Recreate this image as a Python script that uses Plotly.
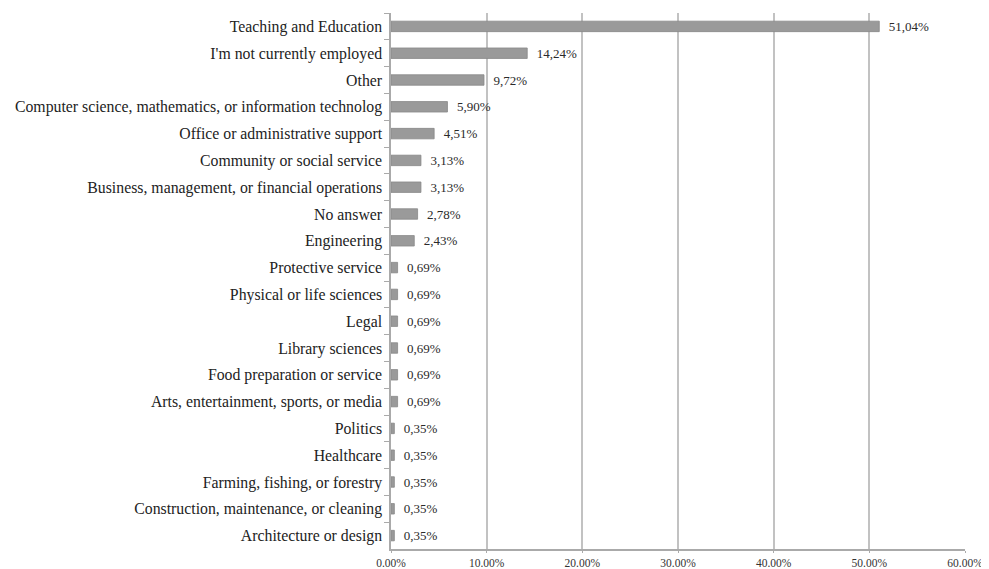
import plotly.graph_objects as go

categories = [
    "Teaching and Education",
    "I'm not currently employed",
    "Other",
    "Computer science, mathematics, or information technolog",
    "Office or administrative support",
    "Community or social service",
    "Business, management, or financial operations",
    "No answer",
    "Engineering",
    "Protective service",
    "Physical or life sciences",
    "Legal",
    "Library sciences",
    "Food preparation or service",
    "Arts, entertainment, sports, or media",
    "Politics",
    "Healthcare",
    "Farming, fishing, or forestry",
    "Construction, maintenance, or cleaning",
    "Architecture or design",
]
values = [51.04, 14.24, 9.72, 5.90, 4.51, 3.13, 3.13, 2.78, 2.43,
          0.69, 0.69, 0.69, 0.69, 0.69, 0.69,
          0.35, 0.35, 0.35, 0.35, 0.35]
tick_vals = [0, 0.1, 0.2, 0.3, 0.4, 0.5, 0.6]

labels = [f"{v:.2f}".replace(".", ",") + "%" for v in values]

fig = go.Figure(go.Bar(
    y=categories,
    x=[v / 100 for v in values],
    orientation="h",
    marker=dict(color="#9a9a9a", line=dict(color="#888888", width=0.8)),
    text=labels,
    texttemplate="\u00a0\u00a0%{text}",
    textposition="outside",
    constraintext="none",
    textfont=dict(family="Liberation Serif", size=13, color="#2a2a2a"),
    cliponaxis=False,
))

# page body has an 8px default margin, so the figure is sized to fit inside it
fig.update_layout(
    width=981, height=561,
    margin=dict(l=383, r=24, t=5, b=20, autoexpand=False),
    paper_bgcolor="white", plot_bgcolor="white",
    bargap=0.61,
    font=dict(family="Liberation Serif", color="#222222"),
    showlegend=False,
)
fig.update_xaxes(
    range=[0, 0.6], tickvals=tick_vals, tickformat=".2%",
    showgrid=True, gridcolor="#c2c2c2", gridwidth=2,
    showline=True, linecolor="#aaaaaa", linewidth=1.5,
    ticks="outside", ticklen=2, tickcolor="#aaaaaa",
    tickfont=dict(family="Liberation Serif", size=11.5, color="#333333"),
    zeroline=False, automargin=False,
)
fig.update_yaxes(
    autorange="reversed",
    showline=True, linecolor="#aaaaaa", linewidth=1.5,
    ticks="outside", ticklen=5, tickcolor="#aaaaaa", tickson="boundaries",
    tickfont=dict(family="Liberation Serif", size=15.8, color="#222222"),
    ticklabelstandoff=4, automargin=False,
)

fig.write_html("out.html")
